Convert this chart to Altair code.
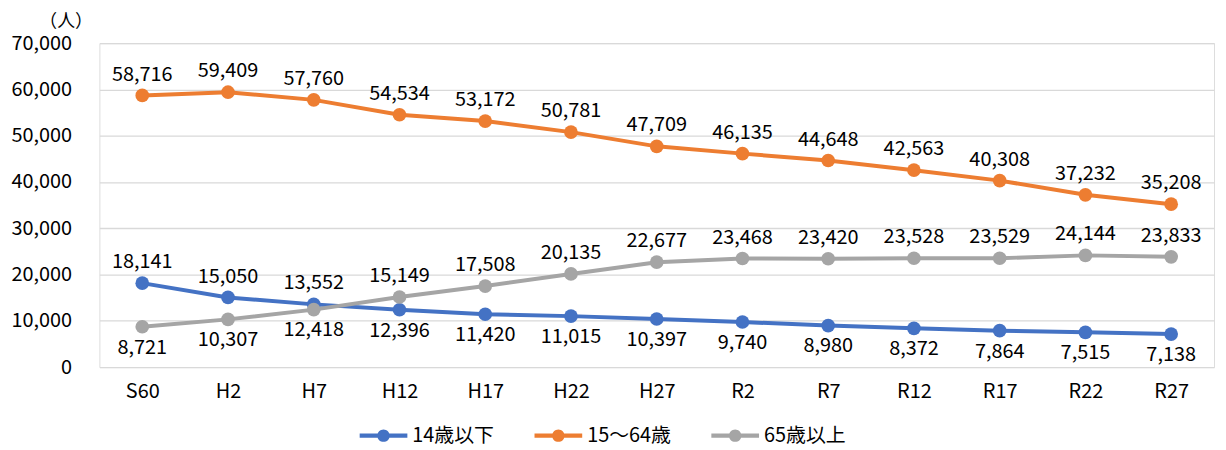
import altair as alt
import pandas as pd

categories = ["S60", "H2", "H7", "H12", "H17", "H22", "H27", "R2", "R7", "R12", "R17", "R22", "R27"]
series_names = ["14歳以下", "15～64歳", "65歳以上"]
young = [18141, 15050, 13552, 12396, 11420, 11015, 10397, 9740, 8980, 8372, 7864, 7515, 7138]
working = [58716, 59409, 57760, 54534, 53172, 50781, 47709, 46135, 44648, 42563, 40308, 37232, 35208]
elderly = [8721, 10307, 12418, 15149, 17508, 20135, 22677, 23468, 23420, 23528, 23529, 24144, 23833]
colors = ["#4472C4", "#ED7D31", "#A5A5A5"]

rows = []
for i, c in enumerate(categories):
    y, w, e = young[i], working[i], elderly[i]
    rows.append({"cat": c, "series": series_names[0], "value": y, "pos": "above" if y > e else "below"})
    rows.append({"cat": c, "series": series_names[1], "value": w, "pos": "above"})
    rows.append({"cat": c, "series": series_names[2], "value": e, "pos": "above" if e > y else "below"})
df = pd.DataFrame(rows)

FONT = "Noto Sans CJK JP"
FS = 20

legend_path = ("M-1,-0.085 L1,-0.085 L1,0.085 L-1,0.085 Z "
               "M0.26,0 A0.26,0.26 0 1,1 -0.26,0 A0.26,0.26 0 1,1 0.26,0 Z")

x = alt.X("cat:N", sort=categories,
          scale=alt.Scale(type="point", padding=0.5),
          axis=alt.Axis(title=None, labelAngle=0, ticks=False, domain=False,
                        labelPadding=15, labelFontSize=FS, labelFont=FONT,
                        labelColor="#000000", grid=False))
y = alt.Y("value:Q",
          scale=alt.Scale(domain=[0, 70000]),
          axis=alt.Axis(title="（人）", titleAngle=0, titleAlign="center",
                        titleBaseline="middle", titleX=-34, titleY=-22,
                        titleFont=FONT, titleFontSize=18, titleFontWeight="normal",
                        titleColor="#000000",
                        values=list(range(0, 70001, 10000)), format=",d",
                        ticks=False, domain=False, labelPadding=28,
                        labelFontSize=FS, labelFont=FONT, labelColor="#000000",
                        grid=True, gridColor="#D9D9D9", gridWidth=1.3))
color = alt.Color("series:N",
                  scale=alt.Scale(domain=series_names, range=colors),
                  legend=alt.Legend(title=None, orient="none", direction="horizontal",
                                    legendX=262, legendY=371,
                                    symbolType=legend_path, symbolSize=2304,
                                    symbolStrokeWidth=0, symbolOpacity=1,
                                    labelFont=FONT, labelFontSize=FS, labelColor="#000000",
                                    labelOffset=5, columnPadding=40))

base = alt.Chart(df)
lines = base.mark_line(strokeWidth=4).encode(x=x, y=y, color=color)
points = base.mark_point(filled=True, size=190, opacity=1).encode(x=x, y=y, color=color)
above = base.transform_filter(alt.datum.pos == "above").mark_text(
    dy=-21, fontSize=FS, font=FONT, color="#000000").encode(
    x=x, y=y, text=alt.Text("value:Q", format=",d"))
below = base.transform_filter(alt.datum.pos == "below").mark_text(
    dy=21, fontSize=FS, font=FONT, color="#000000").encode(
    x=x, y=y, text=alt.Text("value:Q", format=",d"))

chart = alt.layer(lines, points, above, below).properties(
    width=1122, height=326,
    autosize=alt.AutoSizeParams(type="none"),
    padding={"left": 92, "top": 34, "right": 4, "bottom": 80},
).configure_view(stroke="#000000", strokeWidth=1.2).configure(background="#ffffff")

chart.save("out.html", embed_options={"renderer": "svg", "actions": False})
